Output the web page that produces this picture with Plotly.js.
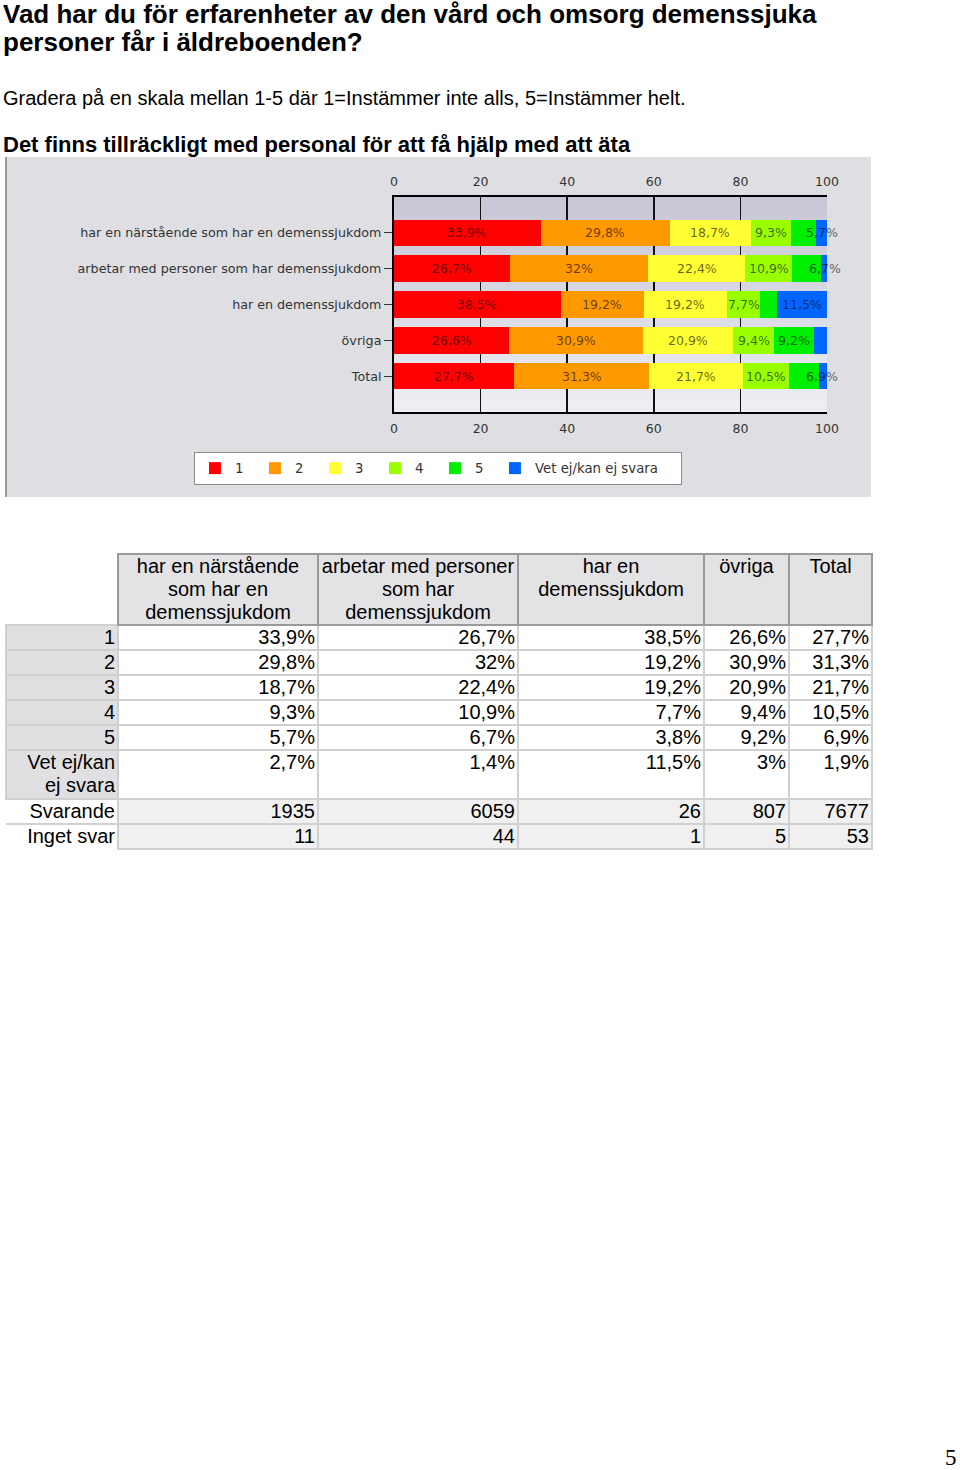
<!DOCTYPE html>
<html>
<head>
<meta charset="utf-8">
<script src="https://cdn.plot.ly/plotly-3.0.1.min.js"></script>
<style>
  html, body { margin:0; padding:0; background:#fff; }
  body { width:960px; height:1470px; position:relative; overflow:hidden; font-family:"Liberation Sans", Arial, sans-serif; color:#000; }
  #t1 { position:absolute; left:3px; top:0px; font-weight:bold; font-size:26px; line-height:28px; white-space:nowrap; }
  #t2 { position:absolute; left:3px; top:87px; font-size:20px; line-height:23px; white-space:nowrap; }
  #t3 { position:absolute; left:3px; top:132px; font-weight:bold; font-size:22px; line-height:25px; white-space:nowrap; }
  #chart { position:absolute; left:5px; top:157px; width:864px; height:340px; border-left:2px solid #9c9c9c; }
  #tbl { position:absolute; left:5px; top:553px; border-collapse:collapse; table-layout:fixed; width:866px;
         font-family:"Liberation Sans", Arial, sans-serif; font-size:20px; color:#000; }
  #tbl td, #tbl th { padding:0 2px 0 2px; line-height:23px; vertical-align:top; text-align:right;
         border:2px solid #d0d0d0; overflow:hidden; white-space:nowrap; }
  #tbl th { text-align:center; font-weight:normal; background:#e3e3e5; border:2px solid #9a9a9a; }
  #tbl th.blank { background:#fff; border:none; }
  #tbl td.lbl { background:#e0e0e2; }
  #tbl td.lbl2 { background:#fff; border-left:none; border-bottom:none; }
  #tbl td.cnt { background:#f0f0f0; }
  #tbl tr.hdr { height:70px; }
  #tbl tr.row { height:25px; }
  #tbl tr.row2 { height:49px; }
  #pg { position:absolute; left:945px; top:1445px; font-family:"Liberation Serif", "Times New Roman", serif; font-size:23px; }
</style>
</head>
<body>
<div id="t1">Vad har du för erfarenheter av den vård och omsorg demenssjuka<br>personer får i äldreboenden?</div>
<div id="t2">Gradera på en skala mellan 1-5 där 1=Instämmer inte alls, 5=Instämmer helt.</div>
<div id="t3">Det finns tillräckligt med personal för att få hjälp med att äta</div>
<div id="chart"></div>
<table id="tbl"></table>
<div id="pg">5</div>
<script>
// ---------- data ----------
const categories = [
  'har en närstående som har en demenssjukdom',
  'arbetar med personer som har demenssjukdom',
  'har en demenssjukdom',
  'övriga',
  'Total'
];
const levels = ['1', '2', '3', '4', '5', 'Vet ej/kan ej svara'];
const level1 = [33.9, 26.7, 38.5, 26.6, 27.7];
const level2 = [29.8, 32, 19.2, 30.9, 31.3];
const level3 = [18.7, 22.4, 19.2, 20.9, 21.7];
const level4 = [9.3, 10.9, 7.7, 9.4, 10.5];
const level5 = [5.7, 6.7, 3.8, 9.2, 6.9];
const vetEj  = [2.7, 1.4, 11.5, 3, 1.9];
const svarande  = [1935, 6059, 26, 807, 7677];
const ingetSvar = [11, 44, 1, 5, 53];
const xTicks = [0, 20, 40, 60, 80, 100];
const tableHeaders = [
  'har en närstående<br>som har en<br>demenssjukdom',
  'arbetar med personer<br>som har<br>demenssjukdom',
  'har en<br>demenssjukdom',
  'övriga',
  'Total'
];
const tableRowLabels = ['1', '2', '3', '4', '5', 'Vet ej/kan<br>ej svara', 'Svarande', 'Inget svar'];

// ---------- styles ----------
const colors = ['#ff0000', '#ff9900', '#ffff33', '#99ff00', '#00ee00', '#0066ff'];
const legendWidths = [15, 15, 15, 15, 15, 141];
const chartFont = 'DejaVu Sans, Verdana, sans-serif';
const series = [level1, level2, level3, level4, level5, vetEj];
const fmtPct = v => String(v).replace('.', ',') + '%';

const traces = series.map((s, i) => ({
  type: 'bar', orientation: 'h',
  x: s, y: categories, name: levels[i],
  width: 0.74, legendwidth: legendWidths[i],
  marker: { color: colors[i], line: { width: 0 } },
  hoverinfo: 'skip'
}));
traces.push({ type: 'scatter', x: [], y: [], xaxis: 'x2', showlegend: false, hoverinfo: 'skip' });

const annotations = [];
categories.forEach((c, j) => {
  let cum = 0;
  series.forEach((s, i) => {
    const v = s[j];
    if (v >= 5) {
      annotations.push({
        x: cum + v / 2 + (v < 7 ? 4.3 : 0), y: c, xref: 'x', yref: 'y',
        text: fmtPct(v), showarrow: false,
        font: { family: chartFont, size: 12.5, color: 'rgba(0,0,0,0.62)' }
      });
    }
    cum += v;
  });
});

const gradSvg = '<svg xmlns="http://www.w3.org/2000/svg" width="10" height="100" viewBox="0 0 10 100" preserveAspectRatio="none">' +
  '<defs><linearGradient id="g" x1="0" y1="0" x2="0" y2="1"><stop offset="0" stop-color="#c6c6d6"/>' +
  '<stop offset="1" stop-color="#eeeef4"/></linearGradient></defs><rect width="10" height="100" fill="url(#g)"/></svg>';

const axisCommon = {
  range: [0, 100], tickvals: xTicks, zeroline: false, fixedrange: true,
  ticks: 'outside', ticklen: 4, tickcolor: 'rgba(0,0,0,0)',
  showline: true, linecolor: '#000', linewidth: 2,
  tickfont: { family: chartFont, size: 12.5, color: '#333' }
};

const layout = {
  width: 864, height: 340,
  margin: { l: 387, r: 44, t: 40, b: 85, pad: 0 },
  paper_bgcolor: '#dfdfe3',
  plot_bgcolor: 'rgba(0,0,0,0)',
  barmode: 'stack',
  font: { family: chartFont, size: 12.5, color: '#333' },
  showlegend: true,
  xaxis: Object.assign({}, axisCommon, { side: 'top', showgrid: true, gridcolor: '#111', gridwidth: 1.5 }),
  xaxis2: Object.assign({}, axisCommon, { side: 'bottom', overlaying: 'x', anchor: 'y', showgrid: false }),
  yaxis: {
    type: 'category', categoryorder: 'array', categoryarray: categories,
    range: [categories.length, -1], fixedrange: true,
    showline: true, linecolor: '#000', linewidth: 2, showgrid: false, zeroline: false,
    ticks: 'outside', ticklen: 8, tickwidth: 1, tickcolor: '#333',
    tickfont: { family: chartFont, size: 12.7, color: '#333' }
  },
  legend: {
    orientation: 'h', x: -0.462, y: -0.186, xanchor: 'left', yanchor: 'top',
    bgcolor: '#ffffff', bordercolor: '#8a8a8a', borderwidth: 1,
    font: { family: chartFont, size: 13.3, color: '#333' }, traceorder: 'normal'
  },
  images: [{
    source: 'data:image/svg+xml;charset=utf-8,' + encodeURIComponent(gradSvg),
    xref: 'paper', yref: 'paper', x: 0, y: 1, sizex: 1, sizey: 1,
    xanchor: 'left', yanchor: 'top', sizing: 'stretch', layer: 'below'
  }],
  annotations: annotations
};

Plotly.newPlot('chart', traces, layout, { displayModeBar: false, staticPlot: true });

// ---------- table ----------
const colWidths = [112, 200, 200, 186, 85, 83];
let html = '<colgroup>' + colWidths.map(w => '<col style="width:' + w + 'px">').join('') + '</colgroup>';
html += '<tr class="hdr"><th class="blank"></th>' + tableHeaders.map(h => '<th>' + h + '</th>').join('') + '</tr>';
series.forEach((s, i) => {
  html += '<tr class="' + (i === 5 ? 'row2' : 'row') + '"><td class="lbl">' + tableRowLabels[i] + '</td>' +
    s.map(v => '<td>' + fmtPct(v) + '</td>').join('') + '</tr>';
});
[svarande, ingetSvar].forEach((s, k) => {
  html += '<tr class="row"><td class="lbl2">' + tableRowLabels[6 + k] + '</td>' +
    s.map(v => '<td class="cnt">' + v + '</td>').join('') + '</tr>';
});
document.getElementById('tbl').innerHTML = html;
</script>
</body>
</html>
